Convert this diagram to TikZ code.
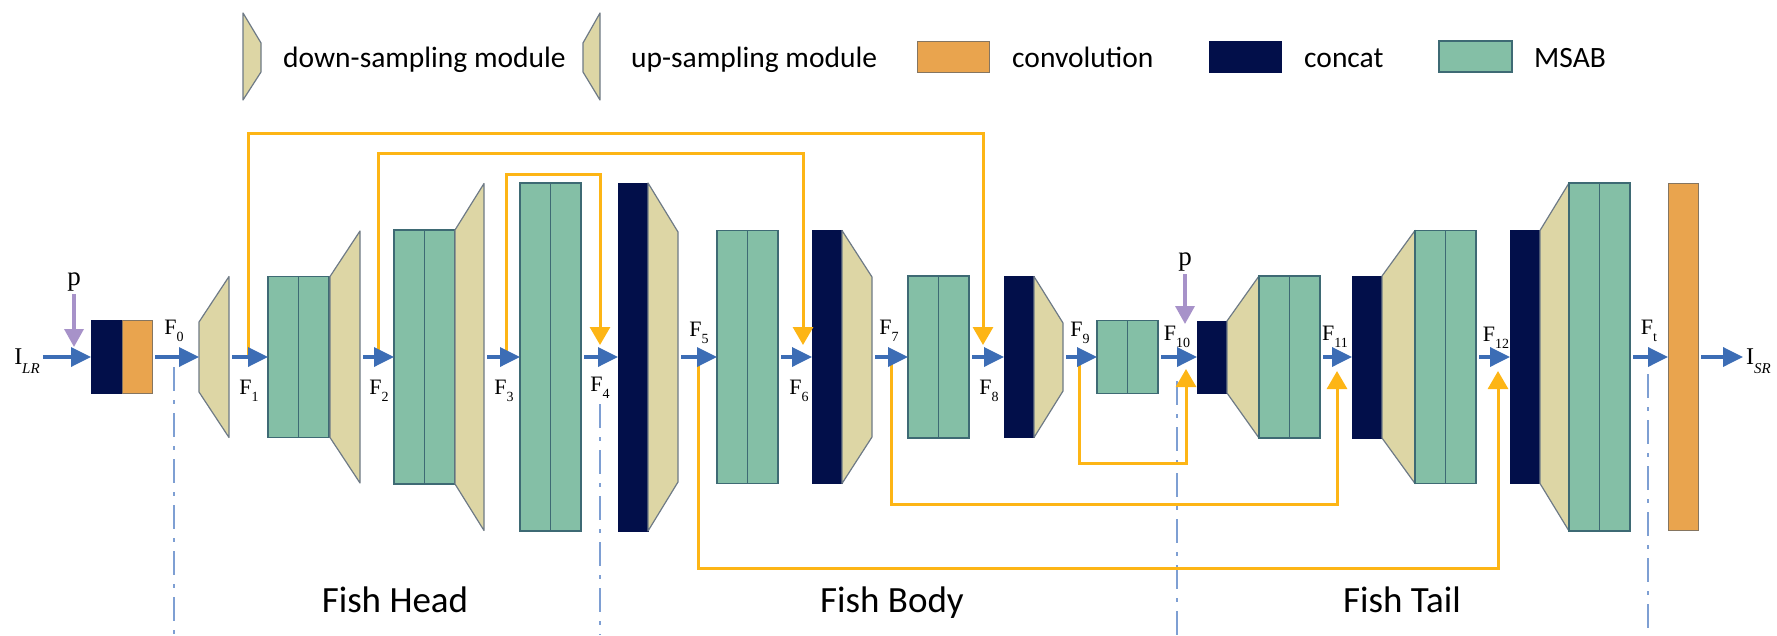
\documentclass[tikz,border=0pt]{standalone}
\usepackage{fontspec}
\setmainfont{Liberation Serif}
\newfontfamily\legsans{Carlito}
\usetikzlibrary{arrows.meta}

\definecolor{msabfill}{HTML}{84BFA6}
\definecolor{msabline}{HTML}{3E6A74}
\definecolor{trapfill}{HTML}{DDD6A5}
\definecolor{trapline}{HTML}{6E7A86}
\definecolor{navy}{HTML}{020F4A}
\definecolor{convfill}{HTML}{E9A44E}
\definecolor{convline}{HTML}{857560}
\definecolor{flowblue}{HTML}{3C6DB5}
\definecolor{skipgold}{HTML}{FDB515}
\definecolor{pinput}{HTML}{A792C9}
\definecolor{stageline}{HTML}{7E9FD3}

\newcommand\Fsub[1]{F\raisebox{-0.3em}{\fontsize{14}{14}\selectfont #1}}
\newcommand\Isub[1]{I\raisebox{-0.38em}{\fontsize{15}{15}\selectfont\itshape #1}}

\tikzset{
  msab/.style={draw=msabline, fill=msabfill, line width=1.3pt, minimum width=30.5pt,
    inner sep=0pt, outer sep=0pt, anchor=west},
  catbox/.style={draw=navy, fill=navy, line width=0.8pt, minimum width=30pt,
    inner sep=0pt, outer sep=0pt, anchor=west},
  convbox/.style={draw=convline, fill=convfill, line width=1pt, minimum width=30pt,
    inner sep=0pt, outer sep=0pt, anchor=west},
  trap/.style={draw=trapline, fill=trapfill, line width=1.2pt, line join=round},
  flow/.style={draw=flowblue, line width=3.5pt, -{Triangle[length=20pt,width=19pt]},
    shorten <=3pt},
  skip/.style={draw=skipgold, line width=3pt, -{Triangle[length=18pt,width=20pt]}},
  pin/.style={draw=pinput, line width=3.5pt, -{Triangle[length=18pt,width=19pt]},
    shorten <=3pt},
  stage/.style={draw=stageline, line width=2.5pt, dash pattern=on 24pt off 9pt on 4pt off 9pt},
  flabel/.style={inner sep=0pt, font=\fontsize{22}{22}\selectfont},
  plabel/.style={inner sep=0pt, font=\fontsize{27}{27}\selectfont},
  leg/.style={inner sep=0pt, anchor=base west, font=\legsans\fontsize{29.5}{29.5}\selectfont},
  part/.style={inner sep=0pt, font=\legsans\fontsize{37}{37}\selectfont},
}

% MSAB pair: name, left x, half height
\newcommand\MSAB[3]{%
  \node[msab, minimum height={2*#3}] (#1a) at (#2,357) {};
  \node[msab, minimum height={2*#3}] (#1b) at (#1a.east) {};}
% sampling module: name, x left, x right, half height left, half height right
\newcommand\Trap[5]{%
  \draw[trap] ({#2},{357-#4}) -- ({#3},{357-#5}) -- ({#3},{357+#5}) -- ({#2},{357+#4}) -- cycle;
  \coordinate (#1in) at (#2,357);
  \coordinate (#1out) at (#3,357);}

\begin{document}
\begin{tikzpicture}[x=1pt,y=-1pt]
\useasboundingbox (0,0) rectangle (1777,635);

% ---------- legend ----------
\draw[trap] (243,13) -- (261,43) -- (261,72) -- (243,100) -- cycle;
\node[leg] (lgdown) at (283,67.5) {down-sampling module};
\draw[trap] (583,43) -- (600,13) -- (600,100) -- (583,72) -- cycle;
\node[leg] (lgup) at (631,67.5) {up-sampling module};
\node[convbox, minimum width=72, minimum height=31] (lgconvbox) at (917,56.5) {};
\node[leg] (lgconv) at (1012,67.5) {convolution};
\node[catbox, minimum width=72, minimum height=31] (lgcatbox) at (1209,56.5) {};
\node[leg] (lgcat) at (1304,67.5) {concat};
\node[msab, minimum width=73, minimum height=31] (lgmsabbox) at (1439,56.5) {};
\node[leg] (lgmsab) at (1534,67.5) {MSAB};

% ---------- stage separators ----------
\draw[stage] (174,367) -- (174,635);
\draw[stage] (600,404) -- (600,635);
\draw[stage] (1177,381) -- (1177,635);
\draw[stage] (1648,374) -- (1648,635);

% ---------- blocks ----------
\node[catbox, minimum width=31, minimum height=73] (c0) at (91,357) {};
\node[convbox, minimum width=30, minimum height=73] (v0) at (c0.east) {};

\Trap{t1}{199}{229}{35}{80.5}
\MSAB{m1}{268}{80.5}
\Trap{t2}{330}{360}{80.5}{126}
\MSAB{m2}{394}{127}
\Trap{t3}{455}{484}{127}{173.5}
\MSAB{m3}{520}{174}
\node[catbox, minimum height=348] (c1) at (618,357) {};
\Trap{t4}{648}{678}{174}{125}
\MSAB{m4}{717}{126.5}
\node[catbox, minimum height=253] (c2) at (812,357) {};
\Trap{t5}{842}{872}{126.5}{80}
\MSAB{m5}{908}{81}
\node[catbox, minimum height=161] (c3) at (1004,357) {};
\Trap{t6}{1034}{1063}{80.5}{34}
\MSAB{m6}{1097}{36.5}
\node[catbox, minimum height=72] (c4) at (1197,357) {};
\Trap{t7}{1227}{1259}{36}{81}
\MSAB{m7}{1259}{81}
\node[catbox, minimum height=162] (c5) at (1352,357) {};
\Trap{t8}{1382}{1415}{81}{126.5}
\MSAB{m8}{1415}{126.5}
\node[catbox, minimum height=253] (c6) at (1510,357) {};
\Trap{t9}{1540}{1569}{126.5}{174}
\MSAB{m9}{1569}{174}
\node[convbox, minimum height=347] (cv) at (1668,357) {};

% ---------- feature junctions ----------
\coordinate (jF1) at (248,357);
\coordinate (jF2) at (378,357);
\coordinate (jF3) at (506,357);
\coordinate (jF4) at (600,357);
\coordinate (jF5) at (698,357);
\coordinate (jF6) at (803,357);
\coordinate (jF7) at (891,357);
\coordinate (jF8) at (983,357);
\coordinate (jF9) at (1079,357);
\coordinate (jF10) at (1186,357);
\coordinate (jF11) at (1337,357);
\coordinate (jF12) at (1498,357);

% ---------- skip connections ----------
\draw[skip] (jF1) -- ++(0,-224) -| ([yshift=12pt]jF8);
\draw[skip] (jF2) -- ++(0,-204) -| ([yshift=12pt]jF6);
\draw[skip] (jF3) -- ++(0,-183) -| ([yshift=12pt]jF4);
\draw[skip] (jF5) -- ++(0,211) -| ([yshift=-14pt]jF12);
\draw[skip] (jF7) -- ++(0,147) -| ([yshift=-14pt]jF11);
\draw[skip] (jF9) -- ++(0,106) -| ([yshift=-12pt]jF10);

% ---------- main flow ----------
\node[flabel, font=\fontsize{24}{24}\selectfont] (ilr) at (27,361) {\Isub{LR}};
\node[flabel, font=\fontsize{24}{24}\selectfont, anchor=west] (isr) at (1746,361) {\Isub{SR}};
\draw[flow] (ilr.east |- c0.west) -- (c0.west);
\draw[flow] (v0.east) -- (t1in);
\draw[flow] (t1out) -- (m1a.west);
\draw[flow] (t2out) -- (m2a.west);
\draw[flow] (t3out) -- (m3a.west);
\draw[flow] (m3b.east) -- (c1.west);
\draw[flow] (t4out) -- (m4a.west);
\draw[flow] (m4b.east) -- (c2.west);
\draw[flow] (t5out) -- (m5a.west);
\draw[flow] (m5b.east) -- (c3.west);
\draw[flow] (t6out) -- (m6a.west);
\draw[flow] (m6b.east) -- (c4.west);
\draw[flow] (m7b.east) -- (c5.west);
\draw[flow] (m8b.east) -- (c6.west);
\draw[flow] (m9b.east) -- (cv.west);
\draw[flow] (cv.east) -- ([xshift=-3pt]isr.west |- cv.east);

% ---------- prior inputs ----------
\node[plabel] (p1) at (74,282) {p};
\coordinate (p1end) at (74,347);
\draw[pin] (p1.south) -- (p1end);
\node[plabel] (p2) at (1185,262) {p};
\coordinate (p2end) at (1185,324);
\draw[pin] (p2.south) -- (p2end);

% ---------- feature labels ----------
\node[flabel] (lF0) at (174,331) {\Fsub{0}};
\node[flabel] (lF1) at (249,391) {\Fsub{1}};
\node[flabel] (lF2) at (379,391) {\Fsub{2}};
\node[flabel] (lF3) at (504,391) {\Fsub{3}};
\node[flabel] (lF4) at (600,388) {\Fsub{4}};
\node[flabel] (lF5) at (699,333) {\Fsub{5}};
\node[flabel] (lF6) at (799,391) {\Fsub{6}};
\node[flabel] (lF7) at (889,331) {\Fsub{7}};
\node[flabel] (lF8) at (989,391) {\Fsub{8}};
\node[flabel] (lF9) at (1080,333) {\Fsub{9}};
\node[flabel] (lF10) at (1177,337) {\Fsub{10}};
\node[flabel] (lF11) at (1335,337) {\Fsub{11}};
\node[flabel] (lF12) at (1496,338) {\Fsub{12}};
\node[flabel] (lFt) at (1649,331) {\Fsub{t}};

% ---------- parts ----------
\node[part] (head) at (395,600) {Fish Head};
\node[part] (body) at (892,603) {Fish Body};
\node[part] (tail) at (1402,600) {Fish Tail};
\end{tikzpicture}
\end{document}
